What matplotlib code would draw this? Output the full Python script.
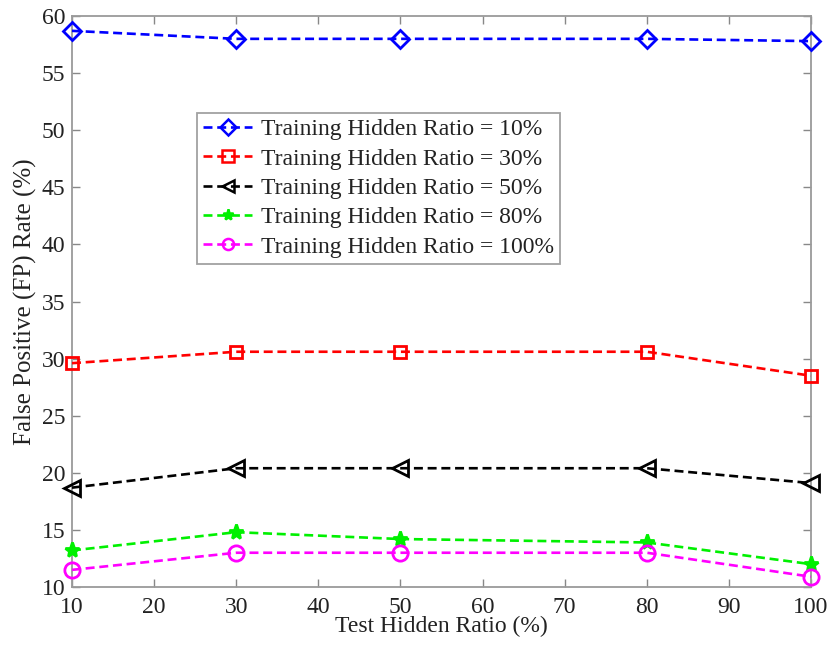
import numpy as np
import matplotlib
matplotlib.use("Agg")
import matplotlib.pyplot as plt

# test hidden ratio (%) on the x axis
test_ratio = [10, 30, 50, 80, 100]

# false positive rate (%) per training hidden ratio
fp_10 = [58.7, 58.0, 58.0, 58.0, 57.8]
fp_30 = [29.6, 30.6, 30.6, 30.6, 28.5]
fp_50 = [18.7, 20.4, 20.4, 20.4, 19.1]
fp_80 = [13.2, 14.8, 14.2, 13.9, 12.0]
fp_100 = [11.5, 13.0, 13.0, 13.0, 10.9]

labels = ["Training Hidden Ratio = 10%", "Training Hidden Ratio = 30%",
          "Training Hidden Ratio = 50%", "Training Hidden Ratio = 80%",
          "Training Hidden Ratio = 100%"]

plt.rcParams["font.family"] = ["Liberation Serif", "DejaVu Serif"]
plt.rcParams["font.size"] = 17
plt.rcParams["text.color"] = "#222222"
plt.rcParams["axes.labelcolor"] = "#222222"
plt.rcParams["xtick.color"] = "#222222"
plt.rcParams["ytick.color"] = "#222222"

fig = plt.figure(figsize=(8.31, 6.45), dpi=100)
ax = fig.add_axes([72 / 831, 1 - 587 / 645, (811 - 72) / 831, (587 - 16) / 645])

styles = [
    (fp_10, "#0000ff", "D", dict(markersize=9, markerfacecolor="none")),
    (fp_30, "#ff0000", "s", dict(markersize=9, markerfacecolor="none")),
    (fp_50, "#000000", "<", dict(markersize=11, markerfacecolor="none")),
    (fp_80, "#00f000", "*", dict(markersize=11)),
    (fp_100, "#ff00ff", "o", dict(markersize=11, markerfacecolor="none")),
]
for (vals, c, m, kw), lab in zip(styles, labels):
    ax.plot(test_ratio, vals, linestyle="--", color=c, marker=m, lw=1.9,
            markeredgewidth=2.0, dashes=(3.4, 1.8), label=lab,
            clip_on=False, zorder=3, **kw)

ax.set_xlim(10, 100)
ax.set_ylim(10, 60)
ax.set_xticks(np.arange(10, 101, 10))
ax.set_yticks(np.arange(10, 61, 5))
ax.tick_params(direction="in", top=True, right=True, length=6, width=1.0,
               color="#888888")
ax.tick_params(axis="x", pad=7)
ax.tick_params(axis="y", pad=5)
for s in ax.spines.values():
    s.set_color("#9a9a9a")
    s.set_linewidth(1.3)

ax.set_xlabel("Test Hidden Ratio (%)", labelpad=-1)
ax.set_ylabel("False Positive (FP) Rate (%)", labelpad=3, fontsize=18)

leg = ax.legend(loc="upper left", bbox_to_anchor=(125 / 739, (587 - 113) / 571),
                frameon=True, fancybox=False, edgecolor="#8a8a8a",
                handlelength=2.1, handletextpad=0.35, borderpad=0.25,
                borderaxespad=0, labelspacing=0.33, fontsize=17)
leg.get_frame().set_linewidth(1.3)
for h in leg.legend_handles:
    h.set_markersize(8)
    h.set_markeredgewidth(1.8)

fig.savefig("out.png", dpi=100)
